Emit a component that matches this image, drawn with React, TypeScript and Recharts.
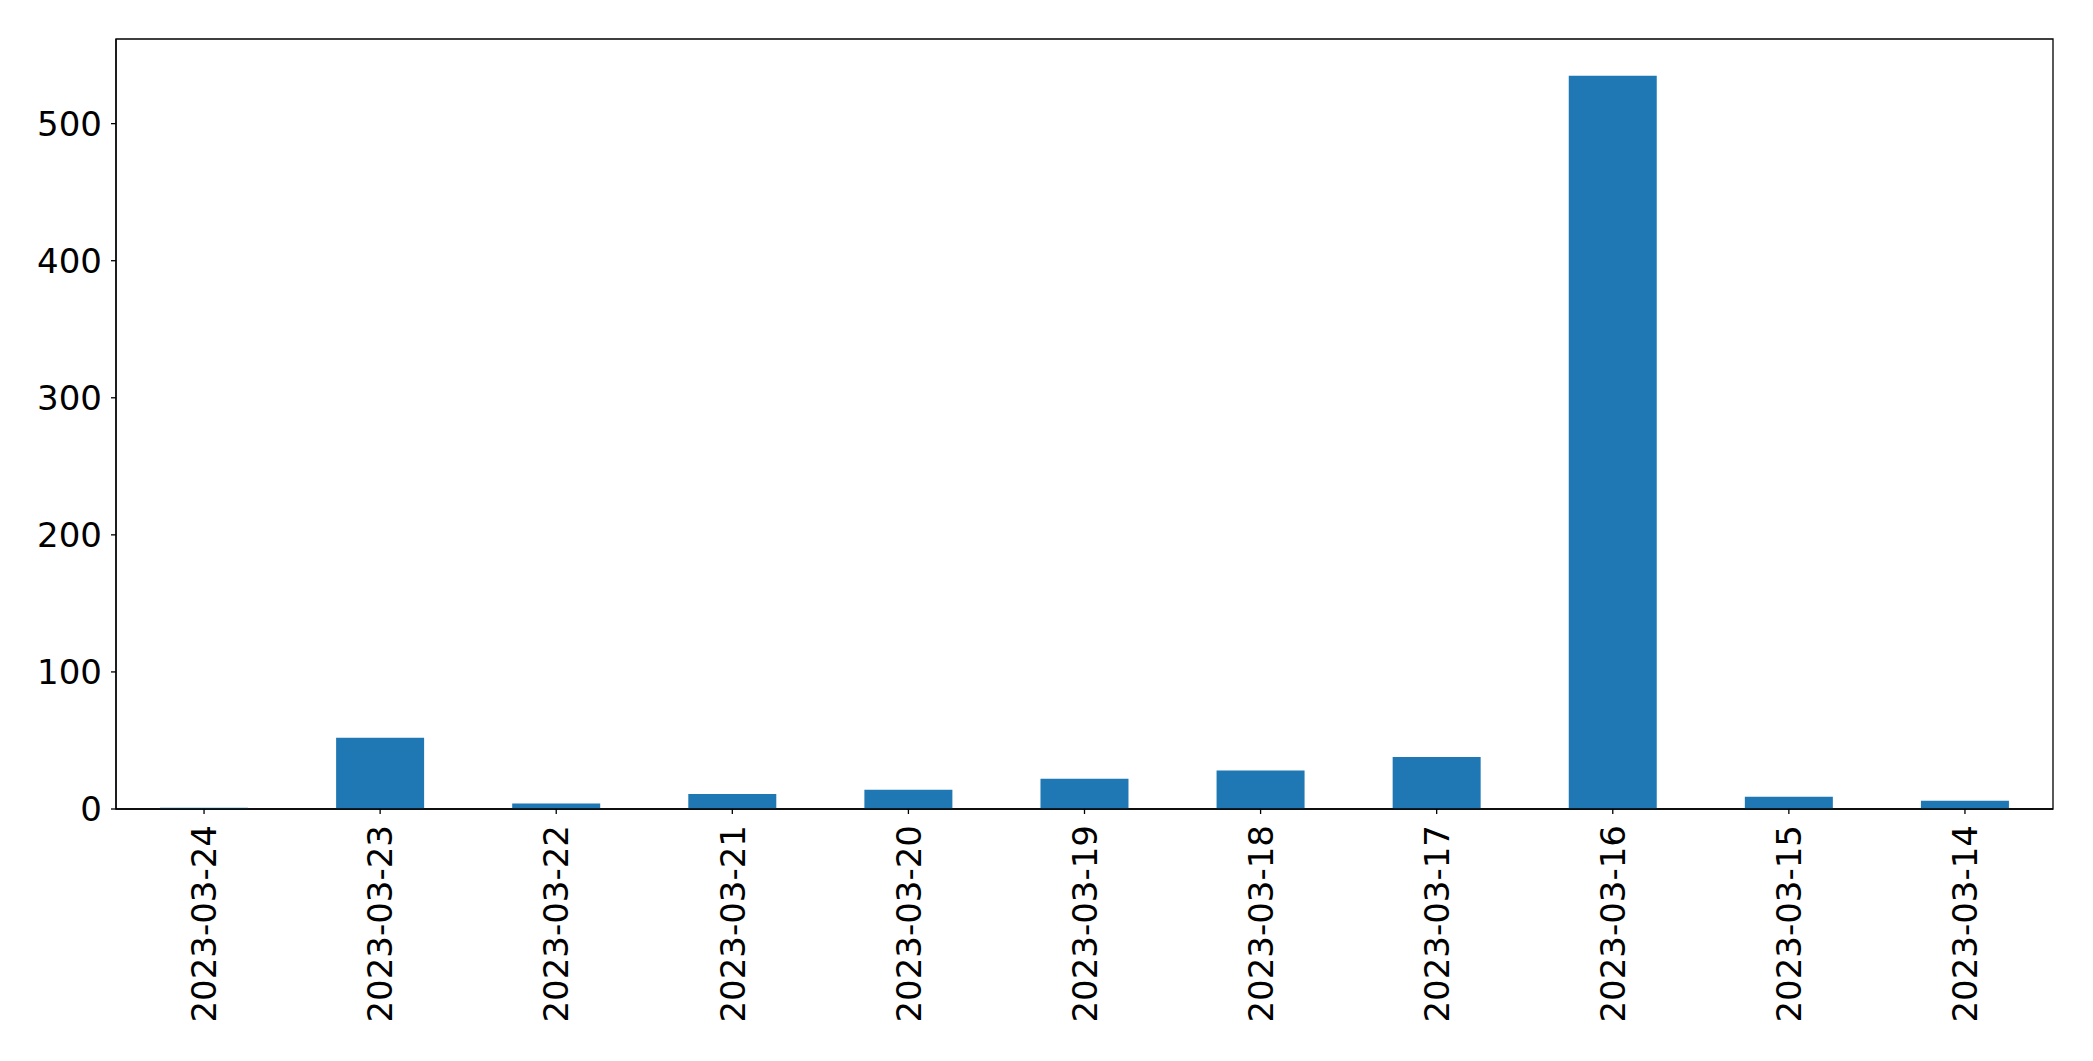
import React from "react";
import { BarChart, Bar, XAxis, YAxis, ReferenceArea } from "recharts";

const dates = [
  "2023-03-24",
  "2023-03-23",
  "2023-03-22",
  "2023-03-21",
  "2023-03-20",
  "2023-03-19",
  "2023-03-18",
  "2023-03-17",
  "2023-03-16",
  "2023-03-15",
  "2023-03-14",
];
const counts = [1, 52, 4, 11, 14, 22, 28, 38, 535, 9, 6];
const yTicks = [0, 100, 200, 300, 400, 500];

const data = dates.map((d, i) => ({ date: d, count: counts[i] }));
const yMax = Math.max(...counts) * 1.05;

const FONT = "'DejaVu Sans', sans-serif";
const FS = 34;

const RotatedTick = (props: any) => {
  const { x, y, payload } = props;
  return (
    <text
      x={x}
      y={y}
      transform={`rotate(-90, ${x}, ${y})`}
      textAnchor="end"
      dy="0.36em"
      fontFamily={FONT}
      fontSize={FS}
      fill="#000"
    >
      {payload.value}
    </text>
  );
};

export default function App() {
  return (
    <div style={{ position: "absolute", left: 0, top: 0, background: "#fff" }}>
      <BarChart
        width={2093}
        height={1061}
        data={data}
        margin={{ top: 39, right: 40, bottom: 0, left: 0 }}
        barCategoryGap="25%"
      >
        <XAxis
          dataKey="date"
          interval={0}
          height={252}
          tick={<RotatedTick />}
          tickSize={5}
          tickMargin={11}
          axisLine={{ stroke: "#000", strokeWidth: 1.3 }}
          tickLine={{ stroke: "#000", strokeWidth: 1.3 }}
        />
        <YAxis
          width={116}
          domain={[0, yMax]}
          ticks={yTicks}
          allowDataOverflow
          tickSize={5}
          tickMargin={9}
          tick={{ fontFamily: FONT, fontSize: FS, fill: "#000" }}
          axisLine={{ stroke: "#000", strokeWidth: 1.3 }}
          tickLine={{ stroke: "#000", strokeWidth: 1.3 }}
        />
        <Bar dataKey="count" fill="#1f77b4" isAnimationActive={false} />
        <ReferenceArea
          y1={0}
          y2={yMax}
          fill="none"
          fillOpacity={0}
          stroke="#000"
          strokeWidth={1.3}
          ifOverflow="visible"
        />
      </BarChart>
    </div>
  );
}
